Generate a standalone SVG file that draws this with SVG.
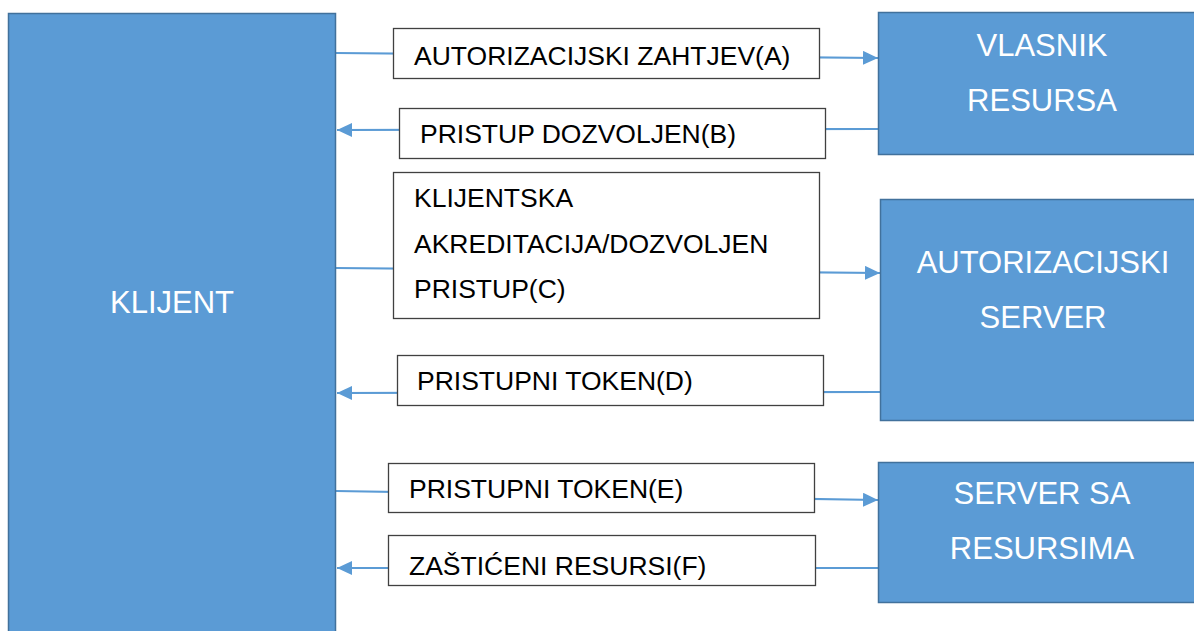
<svg xmlns="http://www.w3.org/2000/svg" width="1194" height="631" viewBox="0 0 1194 631">
<style>
.ent{fill:#5B9BD5;stroke:#41719C;stroke-width:1.5}
.ent-t{font-family:"Liberation Sans",Arial,sans-serif;font-size:31px;fill:#ffffff;text-anchor:middle}
.lbl{fill:#ffffff;stroke:#404040;stroke-width:1.3}
.lbl-t{font-family:"Liberation Sans",Arial,sans-serif;font-size:26.5px;fill:#000000}
.con{stroke:#5B9BD5;stroke-width:2.2;fill:none}
</style>
<defs>
<marker id="ah" viewBox="0 0 15 14" refX="15" refY="7" markerWidth="15" markerHeight="14" markerUnits="userSpaceOnUse" orient="auto">
<path d="M0,0 L15,7 L0,14 Z" fill="#5B9BD5"/>
</marker>
</defs>
<rect width="1194" height="631" fill="#ffffff"/>
<g id="connectors">
<line class="con" x1="336" y1="53" x2="878" y2="58" marker-end="url(#ah)"/>
<line class="con" x1="878" y1="129" x2="337" y2="130" marker-end="url(#ah)"/>
<line class="con" x1="336" y1="268" x2="880" y2="273" marker-end="url(#ah)"/>
<line class="con" x1="880" y1="392" x2="337" y2="393" marker-end="url(#ah)"/>
<line class="con" x1="336" y1="491" x2="878" y2="500" marker-end="url(#ah)"/>
<line class="con" x1="878" y1="568" x2="337" y2="568" marker-end="url(#ah)"/>
</g>
<g id="klijent">
<rect class="ent" x="8.5" y="13.5" width="327" height="640"/>
<text class="ent-t" x="172" y="313">KLIJENT</text>
</g>
<g id="vlasnik-resursa">
<rect class="ent" x="878.5" y="12.5" width="330" height="142"/>
<text class="ent-t" x="1042" y="56">VLASNIK</text>
<text class="ent-t" x="1042" y="111">RESURSA</text>
</g>
<g id="autorizacijski-server">
<rect class="ent" x="880.5" y="199.5" width="330" height="221"/>
<text class="ent-t" x="1043" y="273">AUTORIZACIJSKI</text>
<text class="ent-t" x="1043" y="328">SERVER</text>
</g>
<g id="server-sa-resursima">
<rect class="ent" x="878.5" y="462.5" width="330" height="140"/>
<text class="ent-t" x="1042" y="504">SERVER SA</text>
<text class="ent-t" x="1042" y="559">RESURSIMA</text>
</g>
<g id="label-a">
<rect class="lbl" x="393.5" y="28.5" width="426" height="50"/>
<text class="lbl-t" x="414" y="65">AUTORIZACIJSKI ZAHTJEV(A)</text>
</g>
<g id="label-b">
<rect class="lbl" x="399.5" y="108.5" width="426" height="50"/>
<text class="lbl-t" x="420" y="143">PRISTUP DOZVOLJEN(B)</text>
</g>
<g id="label-c">
<rect class="lbl" x="393.5" y="172.5" width="426" height="146"/>
<text class="lbl-t" x="414" y="207">KLIJENTSKA</text>
<text class="lbl-t" x="414" y="253">AKREDITACIJA/DOZVOLJEN</text>
<text class="lbl-t" x="414" y="298">PRISTUP(C)</text>
</g>
<g id="label-d">
<rect class="lbl" x="397.5" y="355.5" width="426" height="50"/>
<text class="lbl-t" x="417" y="390">PRISTUPNI TOKEN(D)</text>
</g>
<g id="label-e">
<rect class="lbl" x="388.5" y="463.5" width="426" height="49"/>
<text class="lbl-t" x="409" y="498">PRISTUPNI TOKEN(E)</text>
</g>
<g id="label-f">
<rect class="lbl" x="388.5" y="535.5" width="427" height="50"/>
<text class="lbl-t" x="409" y="575">ZAŠTIĆENI RESURSI(F)</text>
</g>
</svg>
